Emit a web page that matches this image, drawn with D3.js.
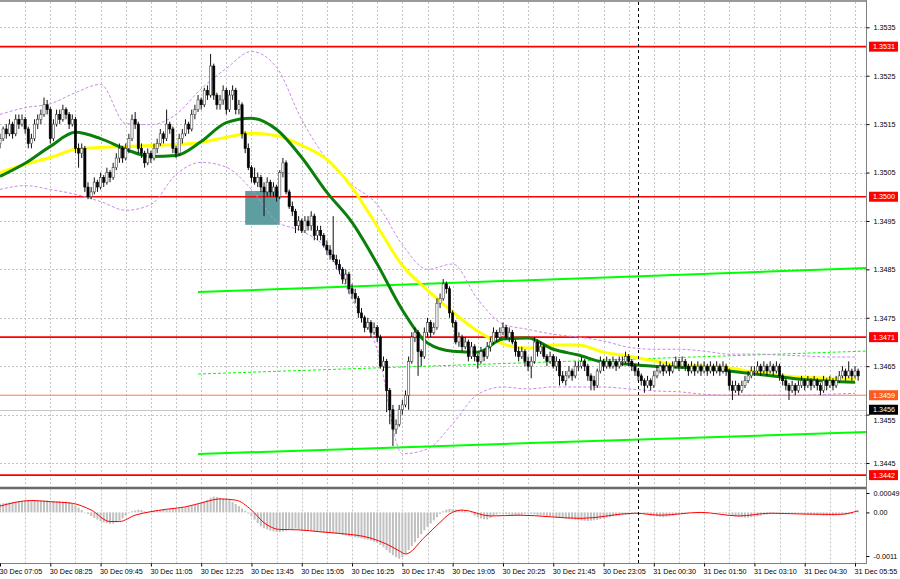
<!DOCTYPE html>
<html><head><meta charset="utf-8">
<script src="https://cdn.jsdelivr.net/npm/d3@7"></script>
<style>html,body{margin:0;padding:0;background:#fff;}svg{display:block;font-family:"Liberation Sans",Arial,sans-serif;}</style>
</head><body><svg id="c" width="900" height="579"></svg>
<script>
// ---- DATA (prices as pips above 1.3400) ----
const pipBase = 1.34;
const candles = [
[111,113,110,112],[112,114.5,111.5,114],[114,115,112,113],[113,116,112.5,115],[115,115.5,112,113],[113,117,112.5,116],[116,117,114,115],[115,117,114.5,116],[116,116.5,113,114],[114,114.5,110,111],
[111,113,110,112],[112,116,111.5,115],[115,117,114,116],[116,118,115,117],[117,120.5,116.5,119],[119,120,117,118],[118,118.5,111,112],[112,116,111.5,115],[115,118,114.5,117],[117,118,115,116],
[116,119,115.5,118],[118,118.5,116,117],[117,117.5,114,115],[115,117,114.5,116],[116,116.5,109,110],[110,111,106,109],[109,111,108,110],[110,110.5,101,102],[102,103,99.5,100],[100,102,99.5,101],
[101,104,100.5,103],[103,103.5,101,102],[102,105,101.5,104],[104,104.5,102,103],[103,106,102.5,105],[105,105.5,103,104],[104,107,103.5,106],[106,109,105.5,108],[108,111,107,110],[110,110.5,107,108],
[108,111,107.5,110],[110,113,109,112],[112,117,111.5,116],[116,117.5,114,115],[115,115.5,109,110],[110,111,108,109],[109,109.5,106,107],[107,110,106.5,109],[109,109.5,107,108],[108,111,107.5,110],
[110,112,109,111],[111,114,110.5,113],[113,113.5,111,112],[112,118,111.5,115],[115,115.5,113,114],[114,114.5,109,110],[110,110.5,108,109],[109,113,108.5,112],[112,114,111,113],[113,116,112.5,115],
[115,115.5,113,114],[114,118,113.5,117],[117,119,116,118],[118,121,117.5,120],[120,120.5,118,119],[119,122.5,118.5,122],[122,123,120,121],[121,129.5,120.5,127],[127,127.5,120,121],[121,121.5,118,119],
[119,121,118,120],[120,123,119,122],[122,122.5,117,118],[118,122,117.5,121],[121,123,120,122],[122,122.5,117,118],[118,120,117,119],[119,119.5,112,113],[113,113.5,109,110],[110,111,105.5,106],
[106,106.5,103,104],[104,106,102.5,103],[103,105,102,104],[104,104.5,101,102],[102,103,96,101],[101,104,100,103],[103,103.5,100,101],[101,103,100,102],[102,102.5,99,100],[100,105.5,99.5,105],
[105,108,104,107],[107,107.5,100.5,101],[101,101.5,97.5,98],[98,99,96,97],[97,97.5,92.5,94],[94,96,93,95],[95,95.5,92.5,93],[93,96,92.5,95],[95,96,93,94],[94,97,93,96],
[96,96.5,91,92],[92,94,91,93],[93,94,91,92],[92,92.5,89.5,90],[90,91,88,89],[89,90,87,88],[88,96,86.5,87],[87,88,85,86],[86,87,84,85],[85,85.5,82,83],
[83,85,82,84],[84,84.5,80,81],[81,82,79,80],[80,81,78,79],[79,79.5,75,76],[76,77,74,75],[75,75.5,72,73],[73,75,72.5,74],[74,74.5,71,72],[72,74,71.5,73],
[73,73.5,70,71],[71,71.5,64.5,65],[65,67,64,66],[66,66.5,55.5,60],[60,60.5,53,56],[56,57,48.5,52],[52,54,51,53],[53,57,52.5,56],[56,58,55,57],[57,60,56.5,59],
[59,67,56,66],[66,72,65.5,71],[71,73,70,72],[72,72.5,63,68],[68,68.5,65,67],[67,73,66.5,72],[72,75,71,74],[74,74.5,71,72],[72,74,71.5,73],[73,79,72.5,78],
[78,80,77,79],[79,83,78.5,82],[82,82.5,80,81],[81,81.5,75,76],[76,76.5,73,74],[74,74.5,69.5,70],[70,72,69,71],[71,71.5,68,69],[69,71,68.5,70],[70,70.5,66,67],
[67,70,66.5,69],[69,69.5,66,67],[67,67.5,64.5,66],[66,69,65.5,68],[68,68.5,66,67],[67,70,66.5,69],[69,71,68,70],[70,73,69.5,72],[72,72.5,70,71],[71,73,70.5,72],
[72,74,71.5,73],[73,73.5,70.5,71],[71,73,70,72],[72,72.5,69.5,70],[70,70.5,67,68],[68,69,66,67],[67,69,66.5,68],[68,68.5,65,66],[66,67,64,65],[65,67,62.5,66],
[66,71,65.5,70],[70,70.5,67,68],[68,70,67.5,69],[69,69.5,66.5,67],[67,67.5,65,66],[66,68,65.5,67],[67,67.5,64.5,65],[65,67,64,66],[66,66.5,61,63],[63,64,61.5,62],
[62,64,61,63],[63,65,62.5,64],[64,64.5,62,63],[63,66,62.5,65],[65,66,64,65],[65,67,64.5,66],[66,66.5,64,65],[65,65.5,62,63],[63,63.5,60,62],[62,63,60,61],
[61,64.5,60.5,64],[64,67,63.5,66],[66,66.5,64,65],[65,67,64.5,66],[66,66.5,64.5,65],[65,67,64.5,66],[66,66.5,64,65],[65,67,64.5,66],[66,67,65,66],[66,68,65.5,67],
[67,67.5,65,66],[66,66.5,64,65],[65,65.5,63,64],[64,64.5,62,63],[63,63.5,61,62],[62,62.5,59.5,61],[61,63,60.5,62],[62,62.5,60,61],[61,64,60.5,63],[63,65,62.5,64],
[64,66,63.5,65],[65,65.5,63,64],[64,66,63.5,65],[65,65.5,63,64],[64,66,63.5,65],[65,67,64.5,66],[66,66.5,64,65],[65,67,64.5,66],[66,66.5,64,65],[65,65.5,63,64],
[64,66,63.5,65],[65,65.5,63,64],[64,66,63.5,65],[65,65.5,63,64],[64,66,63.5,65],[65,65.5,63,64],[64,66,63.5,65],[65,65.5,63,64],[64,66,63.5,65],[65,65.5,63,64],
[64,66,63.5,65],[65,65.5,63,64],[64,64.5,60,61],[61,62,58,60],[60,62,59.5,61],[61,61.5,59,60],[60,62,59.5,61],[61,63,60.5,62],[62,64,61.5,63],[63,65,62.5,64],
[64,65,63,64],[64,66,63.5,65],[65,65.5,63,64],[64,66,63.5,65],[65,65.5,63,64],[64,66,63.5,65],[65,65.5,63,64],[64,66,63.5,65],[65,65.5,62,63],[63,63.5,61,62],
[62,62.5,60,61],[61,61.5,58,60],[60,62,59.5,61],[61,61.5,59,60],[60,62,59.5,61],[61,63,60.5,62],[62,62.5,60,61],[61,63,60.5,62],[62,62.5,60,61],[61,63,60.5,62],
[62,62.5,60,61],[61,61.5,59,60],[60,63,59.5,62],[62,62.5,60,61],[61,63,60.5,62],[62,62.5,60,61],[61,63,60.5,62],[62,64,61.5,63],[63,65,62.5,64],[64,64.5,62,63],
[63,66,62.5,64],[64,64.5,62,63],[63,65,62.5,64],[64,64.5,62,63]
];
const timeLabels = ["30 Dec 07:05","30 Dec 08:25","30 Dec 09:45","30 Dec 11:05","30 Dec 12:25","30 Dec 13:45","30 Dec 15:05","30 Dec 16:25","30 Dec 17:45","30 Dec 19:05","30 Dec 20:25","30 Dec 21:45","30 Dec 23:05","31 Dec 00:30","31 Dec 01:50","31 Dec 03:10","31 Dec 04:30","31 Dec 05:55"];
const priceTicks = [1.3535,1.3525,1.3515,1.3505,1.3495,1.3485,1.3475,1.3465,1.3455,1.3445];
const levelPrices = [1.3531,1.3500,1.3471,1.34425];
const levelLabels = ["1.3531","1.3500","1.3471","1.3442"];
const markPrices = [1.3459,1.3456];
const markLabels = ["1.3459","1.3456"];
const maBars = [0,8,16,24,32,40,48,56,64,72,80,88,96,104,112,120,128,136,144,152,160,168,176,184,192,200,208,216,224,232,240,248,256,264,272];
const maFast = [104.2,106.9,110.4,113.3,112.0,109.8,108.3,108.5,111.4,115.3,116.2,113.9,108.1,100.9,94.7,86.1,76.6,69.8,68.1,67.9,70.6,70.8,68.5,67.3,65.8,65.4,65.0,64.8,64.6,64.0,63.4,62.8,62.2,61.9,61.7];
const maSlow = [105.0,106.7,108.1,109.8,110.2,110.4,110.6,110.8,111.2,112.3,113.1,112.6,110.6,107.7,101.9,93.9,85.8,80.7,76.2,72.2,69.6,68.7,69.4,69.4,67.9,67.1,66.1,65.2,65.0,64.6,63.8,63.1,62.7,62.5,62.3];
const bbUpper = [117.0,118.4,119.2,121.5,123.2,115.1,114.9,117.0,122.3,126.5,130.0,126.7,115.9,107.7,102.5,98.4,90.1,85.0,86.1,78.8,73.7,72.6,71.6,71.0,70.2,68.9,68.5,68.5,68.1,67.5,67.5,67.3,67.1,66.9,66.9];
const bbLower = [101.5,102.3,101.5,100.5,99.0,97.2,98.4,104.6,107.1,106.1,101.5,94.9,92.9,89.1,78.8,68.5,46.9,47.9,53.1,59.2,60.7,60.3,60.7,60.7,60.7,60.3,59.9,59.7,59.2,59.0,59.0,59.0,59.0,59.2,59.4];
const chanBars = [63,276];
const chanUpper = [1.348032,1.348528];
const chanMid = [1.346338,1.346813];
const chanLower = [1.344686,1.345140];
const boxBars = [78,89];
const boxPrices = [1.35012,1.34942];
const separatorBar = 203;
// oscillator histogram, units of 0.00001
const histVals = [22,23,24,25,26,27,28,29,30, 30,30,31,31,30,30,30,29, 29,28,28,27,27,26, 22,17,12, 6,1,-4,-9,
-14,-18,-22,-25,-27,-29, -28,-25,-21, -15,-8,-2, 3,5,7,6, 3,1,2, 4,5,6,7,7,8,8,9,10, 12,13,15,17,19,21,24,
28,32,37,40, 39,37,35,33,31, 26,21,16,10,4, -3,-10,-18,-27,-35, -40,-43,-46,-48,-49,-50, -48,-46,-44,-42,-41,-43,
-45,-46,-47,-47,-48,-49,-50,-51,-52,-52,-53,-54,-55, -57,-58,-60,-61,-63,-64,-66,-68,-69,-71, -74,-77,-82,-88,
-95,-102,-108,-113,-117, -113,-104,-95, -85,-75,-65,-55,-45, -36,-28,-20,-12,-4, 3,7,9, 8,7,6,5,3,1,-2,
-8,-12,-15,-17,-18,-14, -8,-5,-3,-3,-4,-5,-6,-7,-8, -6,-4,-3,-4,-5,-6,-7,-8,-9,-10,-11,-12,
-13,-14,-15,-16,-17,-18,-19,-20,-21,-22,-21,-20,-19,-17, -15,-13,-12,-10,-9,-8,-7,-6,-5,-4,-3,-2,-1,
-4,-6,-8,-9,-10,-11,-12,-11,-10, -8,-6,-4,-3,-2,-1,0,0,-1,-1,-2,-1,0,0,-1,-2,-2,-3,-5,
-8,-10,-11,-12,-13,-13,-12,-11,-10,-8, -6,-5,-4,-3,-3,-3,-2,-2,-3,-3,-3,-3,-4,
-5,-5,-6,-6,-7,-7,-8,-8,-8,-8,-7,-7,-6,-6,-5,-4, 0,4];
const sigBars = [0,10,16,23,29,35,38,43,48,53,59,65,70,75,80,84,89,95,102,108,118,123,127,129,135,140,143,147,156,165,185,202,210,223,235,245,255,267,273];
const sigVals = [16,30,27,23,6,-23,-23,-7,2,8,14,26,34,31,6,-26,-43,-44,-49,-53,-65,-80,-97,-105,-63,-25,-4,6,-9,-7,-15,-2,-7,0,-9,-2,-4,-5,4];
const oscTicks = [0.00049,0,-0.0011];
const oscTickLabels = ["0.00049","0.00","-0.0011"];

// ---- LAYOUT ----
const svg = d3.select("#c");
const axisX = 866.5, mainTop = 2, mainBot = 486.5, oscTop = 489.5, oscBot = 563;
const x = d3.scaleLinear().domain([0,272]).range([0,855]);
const y = d3.scaleLinear().domain([1.3535,1.3445]).range([27.3,463]);
const yo = d3.scaleLinear().domain([0.00049,-0.0011]).range([493,556]);
const pp = v => pipBase + v/10000;

const defs = svg.append("defs");
defs.append("clipPath").attr("id","cm").append("rect").attr("x",0).attr("y",mainTop).attr("width",axisX).attr("height",mainBot-mainTop);
defs.append("clipPath").attr("id","co").append("rect").attr("x",0).attr("y",oscTop).attr("width",axisX).attr("height",oscBot-oscTop);

const gm = svg.append("g").attr("clip-path","url(#cm)");
const go = svg.append("g").attr("clip-path","url(#co)");

// vertical grid
const gridBars = d3.range(8, 276, 8);
[gm, go].forEach((g,k) => {
  g.selectAll("line.vg").data(gridBars).enter().append("line")
    .attr("x1",d=>Math.round(x(d))+0.5).attr("x2",d=>Math.round(x(d))+0.5)
    .attr("y1",k?oscTop:mainTop).attr("y2",k?oscBot:mainBot)
    .attr("stroke","#c4c4c4").attr("stroke-width",1).attr("stroke-dasharray","2,2");
});
// horizontal grid
gm.selectAll("line.hg").data(priceTicks).enter().append("line")
  .attr("x1",0).attr("x2",axisX).attr("y1",d=>Math.round(y(d))+0.5).attr("y2",d=>Math.round(y(d))+0.5)
  .attr("stroke","#c4c4c4").attr("stroke-dasharray","2,2");

// teal box
gm.append("rect").attr("x",x(boxBars[0])).attr("width",x(boxBars[1])-x(boxBars[0]))
  .attr("y",y(boxPrices[0])).attr("height",y(boxPrices[1])-y(boxPrices[0])).attr("fill","#5f9ea0");

// level lines
gm.selectAll("line.lvl").data(levelPrices).enter().append("line")
  .attr("x1",0).attr("x2",axisX).attr("y1",d=>y(d)).attr("y2",d=>y(d))
  .attr("stroke","#ff0000").attr("stroke-width",1.6);
gm.append("line").attr("x1",0).attr("x2",axisX).attr("y1",y(markPrices[0])).attr("y2",y(markPrices[0])).attr("stroke","#ff7a4a").attr("stroke-width",1);
gm.append("line").attr("x1",0).attr("x2",axisX).attr("y1",Math.round(y(markPrices[1]))+0.5).attr("y2",Math.round(y(markPrices[1]))+0.5).attr("stroke","#c8c8c8").attr("stroke-width",1);

// channel lines
const lineP = d3.line().x(d=>x(d[0])).y(d=>y(d[1]));
gm.append("path").attr("d",lineP(chanBars.map((b,i)=>[b,chanUpper[i]]))).attr("stroke","#00ff00").attr("stroke-width",2).attr("fill","none");
gm.append("path").attr("d",lineP(chanBars.map((b,i)=>[b,chanLower[i]]))).attr("stroke","#00ff00").attr("stroke-width",2).attr("fill","none");
gm.append("path").attr("d",lineP(chanBars.map((b,i)=>[b,chanMid[i]]))).attr("stroke","#00ff00").attr("stroke-width",1).attr("stroke-dasharray","3,2").attr("fill","none");

// bands and MAs
const lineC = d3.line().x(d=>x(d[0])).y(d=>y(pp(d[1]))).curve(d3.curveMonotoneX);
[bbUpper,bbLower].forEach(arr=>{
  gm.append("path").attr("d",lineC(maBars.map((b,i)=>[b,arr[i]]))).attr("fill","none")
    .attr("stroke","#c88ae8").attr("stroke-width",1).attr("stroke-dasharray","3,2");
});
gm.append("path").attr("d",lineC(maBars.map((b,i)=>[b,maSlow[i]]))).attr("fill","none").attr("stroke","#ffff00").attr("stroke-width",3);
gm.append("path").attr("d",lineC(maBars.map((b,i)=>[b,maFast[i]]))).attr("fill","none").attr("stroke","#0a800a").attr("stroke-width",3);

// separator
svg.append("line").attr("x1",Math.round(x(separatorBar))+0.5).attr("x2",Math.round(x(separatorBar))+0.5)
  .attr("y1",mainTop).attr("y2",oscBot).attr("stroke","#000").attr("stroke-dasharray","3,3").attr("stroke-width",1);

// candles
const cg = gm.append("g");
candles.forEach((c,i)=>{
  const [o,h,l,cl] = c.map(pp);
  const cx = x(i);
  cg.append("line").attr("x1",cx).attr("x2",cx).attr("y1",y(h)).attr("y2",y(l)).attr("stroke","#111").attr("stroke-width",1);
  const top = y(Math.max(o,cl)), bot = y(Math.min(o,cl));
  cg.append("rect").attr("x",cx-1.1).attr("width",2.2).attr("y",top).attr("height",Math.max(0.8,bot-top))
    .attr("fill", cl>=o ? "#fff" : "#000").attr("stroke", cl>=o ? "#444" : "#000").attr("stroke-width",0.6);
});

// oscillator
go.selectAll("rect.h").data(histVals).enter().append("rect")
  .attr("x",(d,i)=>x(i)-1).attr("width",2)
  .attr("y",d=>Math.min(yo(0),yo(d/100000))).attr("height",d=>Math.abs(yo(d/100000)-yo(0)))
  .attr("fill","#c0c0c0");
go.append("path").attr("d",d3.line().x(d=>x(d[0])).y(d=>yo(d[1]/100000)).curve(d3.curveMonotoneX)(sigBars.map((b,i)=>[b,sigVals[i]])))
  .attr("fill","none").attr("stroke","#ff0000").attr("stroke-width",1);

// frame
svg.append("line").attr("x1",0).attr("x2",axisX).attr("y1",1).attr("y2",1).attr("stroke","#9a9a9a").attr("stroke-width",2);
svg.append("line").attr("x1",0).attr("x2",axisX).attr("y1",488).attr("y2",488).attr("stroke","#6a6a6a").attr("stroke-width",2.5);
svg.append("line").attr("x1",0).attr("x2",axisX).attr("y1",oscBot+0.5).attr("y2",oscBot+0.5).attr("stroke","#808080").attr("stroke-width",1);
svg.append("line").attr("x1",axisX).attr("x2",axisX).attr("y1",0).attr("y2",oscBot+1).attr("stroke","#808080").attr("stroke-width",1);

// right price axis
const ay = svg.append("g").attr("transform",`translate(${axisX},0)`)
  .call(d3.axisRight(y).tickValues(priceTicks).tickSize(3).tickPadding(4).tickFormat(d3.format(".4f")));
ay.select(".domain").remove();
ay.selectAll("line").attr("stroke","#000");
ay.selectAll("text").attr("font-size","7.2px").attr("fill","#000").attr("font-family","Liberation Sans, Arial, sans-serif");
// the tick label sitting under the bid tag peeks out just below it, as in the reference
ay.selectAll("text").filter(d=>Math.abs(d-markPrices[1])<0.00015).attr("dy","1.05em");

const ao = svg.append("g").attr("transform",`translate(${axisX},0)`)
  .call(d3.axisRight(yo).tickValues(oscTicks).tickSize(3).tickPadding(4).tickFormat((d,i)=>oscTickLabels[i]));
ao.select(".domain").remove();
ao.selectAll("line").attr("stroke","#000");
ao.selectAll("text").attr("font-size","7.2px").attr("fill","#000").attr("font-family","Liberation Sans, Arial, sans-serif");

// bottom time axis
const tickBars = timeLabels.map((t,i)=>i*16);
const ax = svg.append("g").attr("transform",`translate(0,${oscBot+0.5})`)
  .call(d3.axisBottom(x).tickValues(tickBars).tickSize(3).tickPadding(2).tickFormat((d,i)=>timeLabels[i]));
ax.select(".domain").remove();
ax.selectAll("line").attr("stroke","#000");
ax.selectAll("text").attr("font-size","7.2px").attr("fill","#000").attr("text-anchor","start").attr("dx","-1px")
  .attr("font-family","Liberation Sans, Arial, sans-serif");

// colored price labels
function tag(p, txt, col){
  const yy = y(p);
  const g = svg.append("g");
  g.append("rect").attr("x",869).attr("y",yy-5).attr("width",29).attr("height",10).attr("fill",col);
  g.append("text").attr("x",873).attr("y",yy).attr("dy","0.34em").attr("font-size","7.2px").attr("fill","#fff").text(txt);
}
levelPrices.forEach((p,i)=>tag(p, levelLabels[i], "#ff0000"));
tag(markPrices[0], markLabels[0], "#ff5a22");
tag(markPrices[1], markLabels[1], "#000");
</script></body></html>
